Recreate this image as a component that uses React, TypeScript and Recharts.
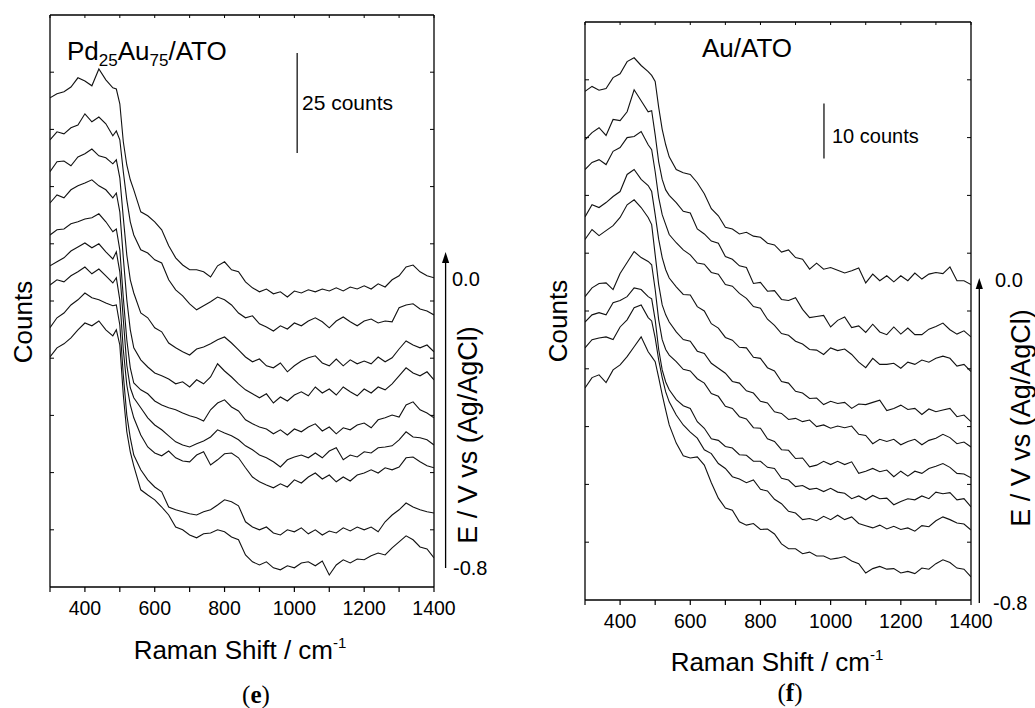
import React from 'react';
import { LineChart, Line, XAxis, YAxis, ReferenceLine } from 'recharts';

// Raman shift grid (cm-1) shared by every spectrum
const RAMAN_SHIFT = [300,320,340,360,380,400,420,440,460,480,490,500,510,520,530,540,560,580,600,620,640,660,680,700,720,740,760,780,800,820,840,860,880,900,920,940,960,980,1000,1020,1040,1060,1080,1100,1120,1140,1160,1180,1200,1220,1240,1260,1280,1300,1320,1340,1360,1380,1400];

const X_TICKS = [300,400,500,600,700,800,900,1000,1100,1200,1300,1400];
const POTENTIALS = ['0.0', '-0.1', '-0.2', '-0.3', '-0.4', '-0.5', '-0.6', '-0.7', '-0.8'];

// Panel (e) Pd25Au75/ATO, stacked spectra (counts), top = 0.0 V ... bottom = -0.8 V
const PDAU_E00 = [122.3,123.3,123.8,125,127.3,126.5,125.3,129.5,126.8,124.8,124.5,120.8,111.3,105.5,101.8,99.3,93.8,92.8,91.3,89.3,85.3,82.3,80.5,79.3,79.3,78.8,77.5,80.3,81.3,79.3,78.8,76.3,74.8,73.8,74.5,73.3,73.8,72.5,74,73.5,74.3,73.8,74.5,74,74.8,74,75,74.5,75.3,74.5,75.8,75,76.8,77.8,80,80.5,78.8,77.8,77.3];
const PDAU_E01 = [111.8,113.8,113.3,114.8,115.5,118.3,116.3,117.5,115.8,112.8,114,111.8,103.8,96.8,91.3,88,84.3,83.5,81.8,81,76.8,74.3,72.8,70.8,69.3,70.3,71.3,72.5,71.8,70.5,68.5,67.3,67.8,65.8,65,64,65.3,64.5,66,65.3,66.5,67.3,66.3,64.8,66.5,67.5,66.3,65.3,66.5,67,66,66.5,66.3,69.8,70.5,70.8,69.5,69,68];
const PDAU_E02 = [103.8,106.3,106.5,105.3,107.5,108.3,109.5,107.8,107.3,105.8,106.8,102.3,92.3,83,76.8,73.5,68.5,67.3,64.8,63.8,61,59.8,58.8,58,59.5,60,60.8,61.8,62.5,61,59.3,57.5,56.3,57,55.3,54.8,56,53.8,55.3,56.5,57.3,57.8,56,55.3,57,55.3,56.8,55.8,56.5,55.8,57.5,56.3,57.3,59.5,61.5,60.5,59.8,60.5,58.8];
const PDAU_E03 = [96,98,97.3,99.3,100.3,101,101.8,100.3,99.3,97.3,98.5,93.8,82.3,71.8,64.3,59.8,56.8,55,53.5,52.8,52,50.8,51.3,50,51.8,50.8,52.5,55.8,54,52.5,50.8,49.3,48.3,47.3,48.3,46,47.5,46.5,48,48.8,47.8,50,48.5,49.5,48,50,48.8,47.8,49.5,48.5,50,49.3,50.8,52.8,54.8,53.5,52.8,53.8,51.8];
const PDAU_E04 = [88,89.3,89.5,90.8,91.3,92,92.3,93.3,91.3,88.8,89.5,84.3,72.3,61.8,54.8,51,49.3,48.3,46.5,45.5,44.8,44.3,43.5,42.8,42.3,41.5,44.3,46,46.8,45,44,41.8,40.8,40,39.5,38.3,39.3,38,39.5,38.8,40,40.8,39,40,38.3,39.8,39.3,40.5,41,39.8,41.8,42.3,43,42.5,45.5,46.3,44.3,43.5,42.3];
const PDAU_E05 = [80.3,81.3,82.3,84,85,86,84.8,85.8,83.8,82,83.8,78.8,66.8,55.5,49.8,47.3,44.8,42.3,40.5,39.3,37.8,36.3,35.5,35,35.8,36.5,37.5,39.3,38.5,37.8,36.8,35.3,34.3,33,32.3,31.3,30,31.8,32.5,33,32.3,33.5,32.3,34,34.8,31.8,33,32.5,33.8,33.5,34.8,35,35.3,36.8,38.8,37.5,37.3,36.8,35.5];
const PDAU_E06 = [75.5,76.8,76.3,77.8,78.8,80,78.3,79.5,77.8,76,77.3,71.8,59.3,50.5,45.5,42.3,38,35,33.5,32.8,34,32.3,31.5,31.3,33,33.8,30.5,31.8,33.3,33.5,32.3,29.8,27.5,26.3,25.5,24.8,25.8,25,26.8,26,27.5,28.5,27,28,26.3,27.5,26.5,28,28.5,29.3,28.5,29.8,29.3,30,32.3,32.5,31.3,30.3,29.8];
const PDAU_E07 = [64.8,67.3,68.5,70.5,71.8,73.5,72.3,71.8,71,70.3,70.5,65.5,53,43,37.3,33,29.3,26.8,25,23.8,20,19.3,18.8,18.3,18,18.8,19.3,20.5,21.8,21.3,20.3,16.3,15,14.3,15,13.5,13,14.3,13.8,14.8,13.3,14.3,13,14,13.5,14.8,14,15,14.3,15,13.8,16.3,18,19.3,21,20,19.3,18.8,18.5];
const PDAU_E08 = [57.5,59.8,60.8,62.3,64.3,66,65.3,66.5,64.3,62.8,64.3,60.5,48,38.8,33.8,30.3,24.3,23,21.8,20,18,15,14.3,13,12.3,13.3,13.5,14.3,13.8,12.5,11.8,8,6.3,5.5,6.3,4.8,4.3,5.3,4.8,6,6.3,5.3,6.5,3,5.5,6.8,6,7,6.8,7.8,8.5,8,9.8,11.3,12.8,11.8,10,9.5,7.3];

// Panel (f) Au/ATO, stacked spectra (counts), top = 0.0 V ... bottom = -0.8 V
const AU_E00 = [92.4,93.3,92.6,92.9,94.9,95.6,97.8,98.5,97.1,96,95.3,94.2,89.5,85.5,82.7,80.5,78.2,77.6,77.3,75.8,73.8,71.1,69.8,67.7,67.4,66.5,66.8,66.1,65.9,64.8,64.5,63.2,63.6,62.2,61.9,60.1,61.2,60.1,60.4,59.9,59.4,59.8,60.3,57.6,59.2,58,58.9,57.8,58.9,58,59.4,58.3,59.2,59.5,59.3,60.5,58,58,57.3];
const AU_E01 = [83.6,84.9,85.8,84.4,87.3,87.1,88.7,92.7,90.7,88.7,88.9,84.5,79.6,76.4,74.5,73.5,72.2,70.6,70.3,67.4,66.5,65.2,64.8,62.4,61.9,60.7,60.4,57.5,57.7,56.1,56.2,54.6,54.4,54.9,52.8,51.3,51.5,51.7,49.6,50.8,51.4,49.5,49.8,48.6,50.1,48.7,48.2,49.6,48.3,49.4,48.2,48.2,49.2,49.7,50.3,49.1,48.3,48.9,47.8];
const AU_E02 = [78.2,79.5,80,79.1,81.5,82.2,84,84.2,85.1,82.7,81.8,77.8,73.1,70,68.2,66.4,64.9,63.6,62.7,61.2,61,59.5,59.2,57.3,57,55.7,54.8,53.3,53,51,49.9,48.4,48.1,47,46.5,45.5,45.4,44.6,45.8,45.3,45.6,44.6,43.2,42.2,43.9,42.8,42.8,43,42.1,43.2,42.8,43.6,43.2,43.9,44.3,43.9,42.5,42.8,41.5];
const AU_E03 = [69.6,71.8,71.3,72.2,73.3,74.2,77.3,78.2,76.4,75.3,74.2,70,65.5,62.2,60,58.5,56.9,55.5,55.4,53.3,52.5,50.2,49.4,47.7,47.2,45.9,45.8,44.1,43.9,42.2,41.6,39.7,39.4,37.9,37.6,36.6,36.7,35.5,36.1,35.7,35.9,34.8,35.6,35.5,35.9,36.3,34.4,34.8,35.4,34.6,34.8,33.7,34.7,34.2,34.5,34.8,33.3,33.6,32.4];
const AU_E04 = [65.5,67.3,66.2,67.1,68,69.5,71.8,72.7,71.3,69.5,68.2,62.7,57.3,53.6,51.8,50.5,48.7,47.3,47,45.2,44.8,43,42.1,41.2,39.7,39.4,38,37.6,36.1,35.8,34.2,33.9,32.8,33,32.4,32.7,31.5,31.8,31.2,31.6,31.3,31.6,30.1,29.9,28.4,29.2,28.8,29.2,28.2,28.8,29.2,28.2,29,29.4,30.1,29.5,28.4,28.7,27.8];
const AU_E05 = [55.1,56.7,57.5,57.6,56.4,59.3,61.3,63.3,62.2,61.5,60.9,56.4,50.9,47.3,45.5,44.5,43.3,41.9,41.6,40.2,39.4,37.5,37,35.2,34.8,33.3,32.9,31.3,31.2,29.3,28.8,27.3,27.2,25.7,25.8,24.2,24.5,25.2,24.6,25.2,24.6,25.1,23,23.4,23.9,23.3,23.6,22.4,23.4,22.5,23.4,23,23.9,24.3,24.8,24.1,23,22.9,22.2];
const AU_E06 = [50.5,51.8,52.2,51.8,54,54.4,55.1,56.7,56.4,55.1,54.7,50.9,45.5,41.8,39.6,38.2,36.4,35.3,34.8,32.4,31.2,29.3,29,27.9,27.6,26.4,26.3,25.2,25.2,24.1,23.9,22.1,21.8,20.6,20.8,20.1,20.3,19.7,20.3,19.6,19.4,18.4,18.9,18.2,19,18.4,18.5,17.3,17.9,18.4,18.2,18.9,18.4,19.6,19.3,19.5,18.2,18.4,16.9];
const AU_E07 = [45.8,47.3,47.6,47.8,47.3,49.6,50.9,53.1,53.6,51.3,50.7,47.6,43.6,40.4,37.8,36,33.6,31.8,30.5,29.4,27.3,26.6,24.8,23.9,22.4,22,21.3,21.8,20.1,19.8,18.3,17.5,16.1,15.8,14.6,14.8,14.4,15.2,14.6,15.4,14.6,15.1,13.9,13.5,13.1,13.6,12.9,13.4,12.8,13.1,12.5,13.5,13.3,14.4,15.1,14.6,14,13.8,12.7];
const AU_E08 = [38.5,40.4,40.9,39.5,41.8,42.7,44.2,46,47.8,45.1,44.2,43.3,40.4,37.3,34.5,31.8,28.5,26.2,25.8,26,24.5,21.3,18.5,16.7,16.3,14.2,13.6,13.9,12.8,12.9,12,10.2,9.3,9.3,8.4,8.7,8,8,7.4,7.6,7.9,7.1,6.6,4.9,5.7,6.1,5.6,5.7,4.9,5.2,4.8,5.8,5.6,6.6,7.3,6.8,5.8,5.6,4.2];

const PDAU_SERIES = [PDAU_E00, PDAU_E01, PDAU_E02, PDAU_E03, PDAU_E04, PDAU_E05, PDAU_E06, PDAU_E07, PDAU_E08];
const AU_SERIES = [AU_E00, AU_E01, AU_E02, AU_E03, AU_E04, AU_E05, AU_E06, AU_E07, AU_E08];

const PDAU_Y_DOMAIN = [0, 143];
const PDAU_Y_TICKS = [14.3, 28.6, 42.9, 57.2, 71.5, 85.8, 100.1, 114.4, 128.7];
const AU_Y_DOMAIN = [0, 105];
const AU_Y_TICKS = [10.5, 21, 31.5, 42, 52.5, 63, 73.5, 84, 94.5];

// scale bars: x position (cm-1), lower end (counts), length (counts)
const PDAU_SCALE = { x: 1008, y0: 108.5, len: 25 };
const AU_SCALE = { x: 981, y0: 80.2, len: 10 };

const FONT = '"Liberation Sans", Arial, Helvetica, sans-serif';
const X_MIN = 300;
const X_MAX = 1400;

function buildRows(series: number[][]) {
  return RAMAN_SHIFT.map((x, i) => {
    const row: Record<string, number> = { x };
    series.forEach((s, k) => {
      row['s' + k] = s[i];
    });
    return row;
  });
}

const tickFmt = (v: number) => (v % 200 === 0 ? String(v) : '');

function Panel(props: {
  series: number[][];
  width: number;
  height: number;
  margin: { top: number; right: number; bottom: number; left: number };
  yDomain: number[];
  yTicks: number[];
  scale: { x: number; y0: number; len: number };
  plotW: number;
  plotH: number;
}) {
  const rows = buildRows(props.series);
  const yMax = props.yDomain[1];
  // inner tick lengths converted to data units (4 px horizontally, 3 px vertically)
  const xTickLen = (4 * (X_MAX - X_MIN)) / props.plotW;
  const yTickLen = (3 * (props.yDomain[1] - props.yDomain[0])) / props.plotH;
  const frame = { stroke: '#000', strokeWidth: 1.3 };
  return (
    <LineChart width={props.width} height={props.height} data={rows} margin={props.margin}>
      <XAxis
        xAxisId="b"
        dataKey="x"
        type="number"
        domain={[X_MIN, X_MAX]}
        ticks={X_TICKS}
        interval={0}
        tickFormatter={tickFmt}
        tickSize={5}
        tickMargin={9}
        height={30}
        allowDataOverflow
        axisLine={{ stroke: '#000', strokeWidth: 1.3 }}
        tickLine={{ stroke: '#000', strokeWidth: 1.2 }}
        tick={{ fontSize: 19.5, fill: '#000', fontFamily: FONT }}
      />
      <YAxis yAxisId="l" type="number" domain={props.yDomain} hide allowDataOverflow />
      {/* frame: top, left, right */}
      <ReferenceLine xAxisId="b" yAxisId="l" y={yMax} {...frame} ifOverflow="visible" />
      <ReferenceLine xAxisId="b" yAxisId="l" x={X_MIN} {...frame} ifOverflow="visible" />
      <ReferenceLine xAxisId="b" yAxisId="l" x={X_MAX} {...frame} ifOverflow="visible" />
      {/* inward minor ticks on top, left and right edges */}
      {X_TICKS.map((v) => (
        <ReferenceLine
          key={'tt' + v}
          xAxisId="b"
          yAxisId="l"
          segment={[{ x: v, y: yMax }, { x: v, y: yMax - yTickLen }]}
          stroke="#000"
          strokeWidth={1}
          ifOverflow="visible"
        />
      ))}
      {props.yTicks.map((t) => (
        <ReferenceLine
          key={'lt' + t}
          xAxisId="b"
          yAxisId="l"
          segment={[{ x: X_MIN, y: t }, { x: X_MIN + xTickLen, y: t }]}
          stroke="#000"
          strokeWidth={1}
          ifOverflow="visible"
        />
      ))}
      {props.yTicks.map((t) => (
        <ReferenceLine
          key={'rt' + t}
          xAxisId="b"
          yAxisId="l"
          segment={[{ x: X_MAX, y: t }, { x: X_MAX - xTickLen, y: t }]}
          stroke="#000"
          strokeWidth={1}
          ifOverflow="visible"
        />
      ))}
      {/* scale bar */}
      <ReferenceLine
        xAxisId="b"
        yAxisId="l"
        segment={[
          { x: props.scale.x, y: props.scale.y0 },
          { x: props.scale.x, y: props.scale.y0 + props.scale.len },
        ]}
        stroke="#000"
        strokeWidth={1.2}
        ifOverflow="visible"
      />
      {props.series.map((_, k) => (
        <Line
          key={k}
          xAxisId="b"
          yAxisId="l"
          type="linear"
          dataKey={'s' + k}
          name={POTENTIALS[k] + ' V'}
          stroke="#111"
          strokeWidth={1.1}
          dot={false}
          activeDot={false}
          isAnimationActive={false}
        />
      ))}
    </LineChart>
  );
}

function Arrow(props: { x: number; top: number; bottom: number }) {
  const { x, top, bottom } = props;
  return (
    <g>
      <line x1={x} y1={bottom} x2={x} y2={top + 8} stroke="#000" strokeWidth={1.3} />
      <polygon points={`${x},${top} ${x - 3.6},${top + 11} ${x + 3.6},${top + 11}`} fill="#000" />
    </g>
  );
}

export default function App() {
  return (
    <div
      style={{
        position: 'absolute',
        left: 0,
        top: 0,
        width: 1035,
        height: 708,
        background: '#fff',
        overflow: 'hidden',
        fontFamily: FONT,
      }}
    >
      <div style={{ position: 'absolute', left: 0, top: 0 }}>
        <Panel
          series={PDAU_SERIES}
          width={470}
          height={708}
          margin={{ top: 15, right: 36, bottom: 91, left: 50 }}
          yDomain={PDAU_Y_DOMAIN}
          yTicks={PDAU_Y_TICKS}
          scale={PDAU_SCALE}
          plotW={384}
          plotH={572}
        />
      </div>
      <div style={{ position: 'absolute', left: 540, top: 0 }}>
        <Panel
          series={AU_SERIES}
          width={495}
          height={708}
          margin={{ top: 22, right: 64, bottom: 78, left: 45 }}
          yDomain={AU_Y_DOMAIN}
          yTicks={AU_Y_TICKS}
          scale={AU_SCALE}
          plotW={386}
          plotH={578}
        />
      </div>
      <svg
        width={1035}
        height={708}
        style={{ position: 'absolute', left: 0, top: 0, pointerEvents: 'none' }}
        fontFamily={FONT}
      >
        {/* panel (e) annotations */}
        <text x={67} y={60} fontSize={26} fill="#000">
          Pd<tspan fontSize={17} dy={6}>25</tspan>
          <tspan dy={-6}>Au</tspan>
          <tspan fontSize={17} dy={6}>75</tspan>
          <tspan dy={-6}>/ATO</tspan>
        </text>
        <text x={302} y={110} fontSize={21} fill="#000">25 counts</text>
        <Arrow x={445.6} top={252} bottom={568} />
        <text x={452} y={279} fontSize={20} fill="#000" dominantBaseline="central">0.0</text>
        <text x={453} y={568} fontSize={20} fill="#000" dominantBaseline="central">-0.8</text>
        <text
          x={468}
          y={435}
          fontSize={27}
          fill="#000"
          textAnchor="middle"
          dominantBaseline="central"
          transform="rotate(-90 468 435)"
        >
          E / V vs (Ag/AgCl)
        </text>
        <text
          x={23}
          y={322}
          fontSize={26}
          fill="#000"
          textAnchor="middle"
          dominantBaseline="central"
          transform="rotate(-90 23 322)"
        >
          Counts
        </text>
        <text x={240} y={659} fontSize={26} fill="#000" textAnchor="middle">
          Raman Shift / cm<tspan fontSize={15} dy={-11}>-1</tspan>
        </text>
        <text x={256} y={703} fontSize={25} fill="#000" textAnchor="middle" fontFamily='"Liberation Serif", "Times New Roman", serif'>
          (<tspan fontWeight="bold">e</tspan>)
        </text>

        {/* panel (f) annotations */}
        <text x={702} y={57} fontSize={26} fill="#000">Au/ATO</text>
        <text x={832} y={143} fontSize={20} fill="#000">10 counts</text>
        <Arrow x={979.3} top={278} bottom={603} />
        <text x={995} y={280} fontSize={20} fill="#000" dominantBaseline="central">0.0</text>
        <text x={993} y={603} fontSize={20} fill="#000" dominantBaseline="central">-0.8</text>
        <text
          x={1021}
          y={418}
          fontSize={27}
          fill="#000"
          textAnchor="middle"
          dominantBaseline="central"
          transform="rotate(-90 1021 418)"
        >
          E / V vs (Ag/AgCl)
        </text>
        <text
          x={558}
          y={321}
          fontSize={26}
          fill="#000"
          textAnchor="middle"
          dominantBaseline="central"
          transform="rotate(-90 558 321)"
        >
          Counts
        </text>
        <text x={777} y={671} fontSize={26} fill="#000" textAnchor="middle">
          Raman Shift / cm<tspan fontSize={15} dy={-11}>-1</tspan>
        </text>
        <text x={790} y={701} fontSize={25} fill="#000" textAnchor="middle" fontFamily='"Liberation Serif", "Times New Roman", serif'>
          (<tspan fontWeight="bold">f</tspan>)
        </text>
      </svg>
    </div>
  );
}
